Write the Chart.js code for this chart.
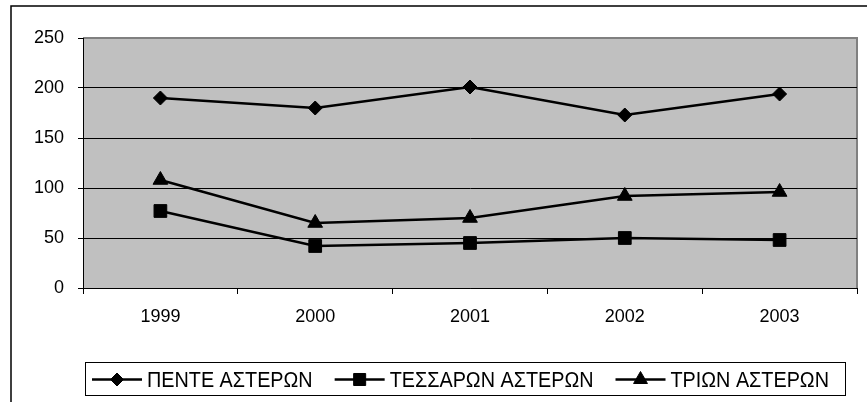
<!DOCTYPE html>
<html>
<head>
<meta charset="utf-8">
<title>Αστέρια ξενοδοχείων 1999-2003</title>
<script src="https://cdn.jsdelivr.net/npm/chart.js@4"></script>
<style>
  html, body { margin: 0; padding: 0; background: #fff; }
  #wrap { width: 867px; height: 402px; position: relative; }
</style>
</head>
<body>
<div id="wrap"><canvas id="c" width="867" height="402"></canvas></div>
<script>
// Years on the category axis
const years = ['1999', '2000', '2001', '2002', '2003'];

// Series values
const pente = [190, 180, 201, 173, 194];
const tessaron = [77, 42, 45, 50, 48];
const trion = [108, 65, 70, 92, 96];

// Series names
const seriesNames = ['ΠΕΝΤΕ ΑΣΤΕΡΩΝ', 'ΤΕΣΣΑΡΩΝ ΑΣΤΕΡΩΝ', 'ΤΡΙΩΝ ΑΣΤΕΡΩΝ'];

// Value axis range
const yMin = 0, yMax = 250, yStep = 50;

const FONT = 'Liberation Sans, Arial, sans-serif';

// Grey plot area with its frame, plus the outer chart border
const frame = {
  id: 'frame',
  beforeDraw(chart) {
    const { ctx, chartArea: a } = chart;
    ctx.save();
    ctx.fillStyle = '#fff';
    ctx.fillRect(0, 0, chart.width, chart.height);
    ctx.fillStyle = '#c0c0c0';
    ctx.fillRect(a.left, a.top, a.right - a.left, a.bottom - a.top);
    ctx.strokeStyle = '#808080';
    ctx.lineWidth = 2;
    ctx.beginPath();
    ctx.moveTo(a.left, a.top);
    ctx.lineTo(a.right, a.top);
    ctx.lineTo(a.right, a.bottom);
    ctx.stroke();
    ctx.strokeStyle = '#000';
    ctx.lineWidth = 1.5;
    ctx.beginPath();
    ctx.moveTo(11, chart.height + 2);
    ctx.lineTo(11, 6);
    ctx.lineTo(chart.width + 2, 6);
    ctx.stroke();
    ctx.restore();
  }
};

// Boxed legend under the plot: line + marker, then the series name
const boxLegend = {
  id: 'boxLegend',
  afterDraw(chart) {
    const { ctx } = chart;
    const box = { left: 85, right: 845, top: 362, bottom: 395 };
    const lineLen = 50, gapText = 5, gapItem = 22, sx = 0.9;
    ctx.save();
    ctx.fillStyle = '#fff';
    ctx.fillRect(box.left, box.top, box.right - box.left, box.bottom - box.top);
    ctx.strokeStyle = '#000';
    ctx.lineWidth = 1;
    ctx.strokeRect(box.left + 0.5, box.top + 0.5, box.right - box.left, box.bottom - box.top);
    ctx.font = '22px ' + FONT;
    const ds = chart.data.datasets;
    let x = box.left + 7;
    const cy = (box.top + box.bottom) / 2 + 1;
    ds.forEach((d) => {
      const w = ctx.measureText(d.label).width * sx;
      ctx.strokeStyle = '#000';
      ctx.lineWidth = 2.5;
      ctx.beginPath();
      ctx.moveTo(x, cy);
      ctx.lineTo(x + lineLen, cy);
      ctx.stroke();
      ctx.fillStyle = '#000';
      ctx.lineWidth = 1;
      Chart.helpers.drawPoint(ctx, {
        pointStyle: d.pointStyle, radius: d.pointRadius - 0.5, rotation: 0, borderWidth: 1
      }, x + lineLen / 2, cy);
      ctx.save();
      ctx.translate(x + lineLen + gapText, 387);
      ctx.scale(sx, 1);
      ctx.fillStyle = '#000';
      ctx.textBaseline = 'alphabetic';
      ctx.fillText(d.label, 0, 0);
      ctx.restore();
      x += lineLen + gapText + w + gapItem;
    });
    ctx.restore();
  }
};

function series(label, data, style, radius) {
  return {
    label, data,
    borderColor: '#000', backgroundColor: '#000',
    borderWidth: 2.5, tension: 0,
    pointStyle: style, pointRadius: radius, pointHoverRadius: radius,
    pointBackgroundColor: '#000', pointBorderColor: '#000', pointBorderWidth: 1
  };
}

new Chart(document.getElementById('c'), {
  type: 'line',
  data: {
    labels: years,
    datasets: [
      series(seriesNames[0], pente, 'rectRot', 7),
      series(seriesNames[1], tessaron, 'rect', 9),
      series(seriesNames[2], trion, 'triangle', 8.5)
    ]
  },
  options: {
    responsive: false,
    animation: false,
    devicePixelRatio: 1,
    layout: { padding: { top: 38, right: 7, left: 0, bottom: 0 } },
    plugins: { legend: { display: false }, tooltip: { enabled: false } },
    scales: {
      x: {
        type: 'category',
        offset: true,
        afterFit(s) { s.height = 114; },
        grid: { offset: true, drawOnChartArea: false, tickLength: 6, tickColor: '#000', tickWidth: 1 },
        border: { display: true, color: '#000', width: 1 },
        ticks: { color: '#000', padding: 12, maxRotation: 0, font: { family: FONT, size: 18 } }
      },
      y: {
        min: yMin, max: yMax,
        afterFit(s) { s.width = 83; },
        grid: {
          tickLength: 5, tickColor: '#000', lineWidth: 1,
          color: c => (c.tick && c.tick.value === yMax) ? 'rgba(0,0,0,0)' : '#000'
        },
        border: { display: true, color: '#000', width: 1 },
        ticks: { stepSize: yStep, color: '#000', padding: 14, font: { family: FONT, size: 18 } }
      }
    }
  },
  plugins: [frame, boxLegend]
});
</script>
</body>
</html>
